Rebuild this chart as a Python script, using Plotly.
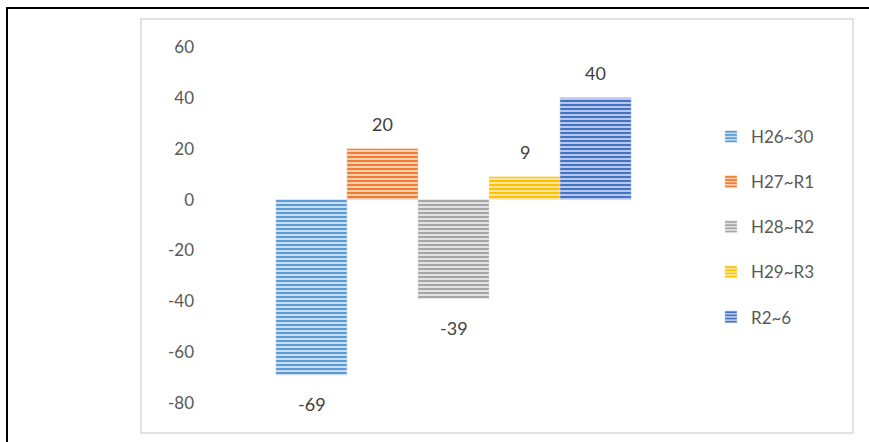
import plotly.graph_objects as go

series = ["H26~30", "H27~R1", "H28~R2", "H29~R3", "R2~6"]
values = [-69, 20, -39, 9, 40]
main_colors = ["#5B9BD5", "#ED7D31", "#A5A5A5", "#FFC000", "#4472C4"]
light_colors = ["#C9DEF1", "#F9CDB0", "#E2E2E2", "#FFE6A0", "#B7C8EA"]
category = ["A"]
yticks = [60, 40, 20, 0, -20, -40, -60, -80]

W, H = 869, 442
L, R, T, B = 195, 712, 47, 403

font_family = "Lato, Carlito, Liberation Sans, sans-serif"
txt_color = "#595959"

fig = go.Figure()
for i, (name, v) in enumerate(zip(series, values)):
    fig.add_trace(go.Bar(
        x=category, y=[v], name=name,
        legendgroup=name,
        marker=dict(
            color=light_colors[i],
            line=dict(color=light_colors[i], width=0.5),
            pattern=dict(shape="-", fgcolor=main_colors[i], bgcolor=light_colors[i],
                         size=4, solidity=0.5, fillmode="replace"),
        ),
    ))

annotations = []
n = len(series)
bar_px = 71
for i, v in enumerate(values):
    annotations.append(dict(
        x=0, y=v, xref="x", yref="y", text=str(v), showarrow=False,
        xshift=(i - (n - 1) / 2) * bar_px,
        yshift=(25 if v >= 0 else -29),
        font=dict(family=font_family, size=18, color="#404040"),
    ))

def px_x(p):
    return (p - L) / (R - L)

def px_y(p):
    return (B - p) / (B - T)

shapes = [
    dict(type="rect", xref="paper", yref="paper",
         x0=px_x(141), x1=px_x(853), y0=px_y(433), y1=px_y(19),
         line=dict(color="#D9D9D9", width=1.5), fillcolor="rgba(0,0,0,0)", layer="below"),
    dict(type="rect", xref="paper", yref="paper",
         x0=px_x(7), x1=px_x(880), y0=px_y(450), y1=px_y(8),
         line=dict(color="#000000", width=2), fillcolor="rgba(0,0,0,0)", layer="below"),
]

fig.update_layout(
    width=W, height=H,
    margin=dict(l=L, r=W - R, t=T, b=H - B, pad=0),
    paper_bgcolor="white", plot_bgcolor="white",
    barmode="group", bargap=0.313, bargroupgap=0,
    showlegend=True,
    legend=dict(x=px_x(711), y=px_y(119), xanchor="left", yanchor="top",
                font=dict(family=font_family, size=17, color=txt_color),
                tracegroupgap=20, bgcolor="rgba(0,0,0,0)"),
    xaxis=dict(visible=False, range=[-0.5, 0.5]),
    yaxis=dict(range=[-80, 60], tickvals=yticks, ticktext=[str(t) for t in yticks],
               showgrid=False, zeroline=False, showline=False, ticks="",
               tickfont=dict(family=font_family, size=17, color=txt_color)),
    annotations=annotations,
    shapes=shapes,
    font=dict(family=font_family),
)

fig.write_html("out.html")
